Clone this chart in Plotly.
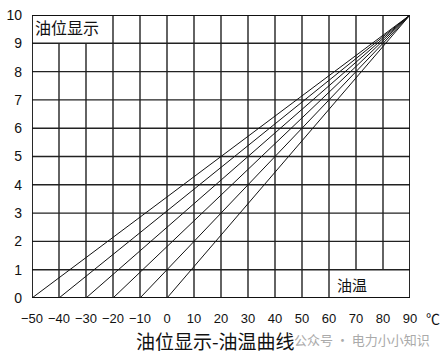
import plotly.graph_objects as go

# Data
start_temps = [-50, -40, -30, -20, -10, 0]   # oil temperature where each line has display 0
end_point = (90, 10)                          # common convergence point
x_ticks = [-50, -40, -30, -20, -10, 0, 10, 20, 30, 40, 50, 60, 70, 80, 90]
y_ticks = [0, 1, 2, 3, 4, 5, 6, 7, 8, 9, 10]

W, H = 445, 358
ML, MR, MT, MB = 32, 35, 15, 60

fig = go.Figure()

for t in start_temps:
    fig.add_trace(go.Scatter(x=[t, end_point[0]], y=[0, end_point[1]], mode="lines",
                             line=dict(color="#111", width=1), showlegend=False,
                             hoverinfo="skip"))

shapes = []
grid_col = "#222"
for y in y_ticks[1:-1]:
    shapes.append(dict(type="line", x0=-50, x1=90, y0=y, y1=y, line=dict(color=grid_col, width=1.4), layer="below"))
for x in x_ticks[1:-1]:
    y0, y1 = 0, 10
    if x in (-40, -30):
        y1 = 9
    if x in (70, 80):
        y0 = 1
    shapes.append(dict(type="line", x0=x, x1=x, y0=y0, y1=y1, line=dict(color=grid_col, width=1.4), layer="below"))
shapes.append(dict(type="rect", x0=-50, x1=90, y0=0, y1=10, line=dict(color="#111", width=1.8), layer="below"))


def px_ann(px, py, text, size, color="#111"):
    return dict(x=(px - ML) / (W - ML - MR), y=((H - py) - MB) / (H - MT - MB),
                xref="paper", yref="paper", text=text, showarrow=False,
                xanchor="center", yanchor="middle",
                font=dict(family="Noto Sans CJK SC", size=size, color=color))


fig.update_layout(
    width=W, height=H,
    margin=dict(l=ML, r=MR, t=MT, b=MB),
    plot_bgcolor="white", paper_bgcolor="white",
    shapes=shapes,
    font=dict(family="Liberation Sans, DejaVu Sans", color="#111"),
    xaxis=dict(range=[-50, 90], tickvals=x_ticks, showgrid=False, zeroline=False,
               showline=False, tickfont=dict(size=13, color="#111"), ticks="",
               ticklabelstandoff=11, automargin=False),
    yaxis=dict(range=[0, 10], tickvals=y_ticks, showgrid=False, zeroline=False,
               showline=False, tickfont=dict(size=14, color="#111"), ticks="",
               ticklabelstandoff=9, automargin=False),
    annotations=[
        dict(x=-37, y=9.58, text="油位显示", showarrow=False, xref="x", yref="y",
             font=dict(family="Noto Sans CJK SC", size=16, color="#111")),
        dict(x=68.5, y=0.47, text="油温", showarrow=False, xref="x", yref="y",
             font=dict(family="Noto Sans CJK SC", size=15, color="#111")),
        px_ann(433, 318, "℃", 14),
        px_ann(215, 340, "油位显示-油温曲线", 19),
        px_ann(362, 339, "公众号 · 电力小小知识", 13, "#aaa"),
    ],
)

fig.write_html("out.html")
